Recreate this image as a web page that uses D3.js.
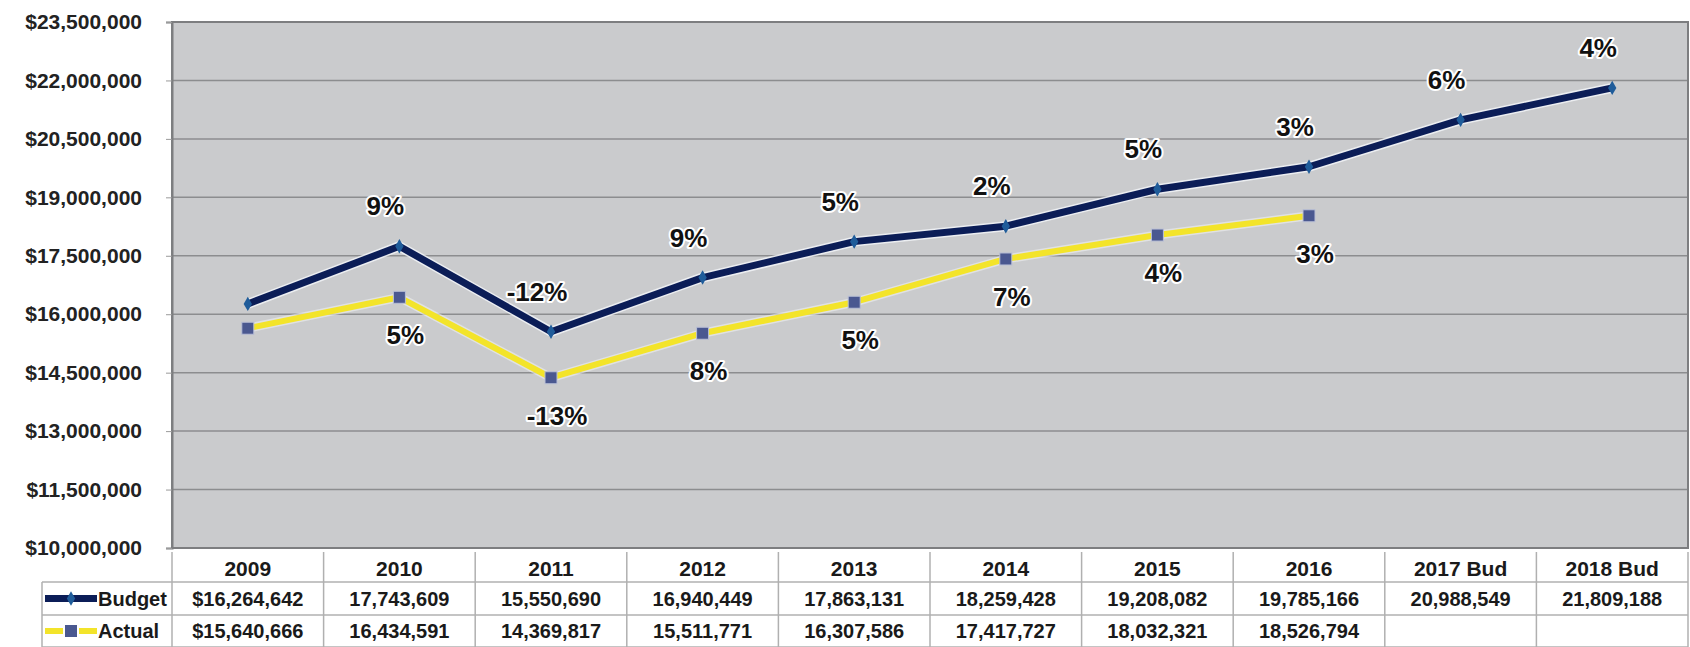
<!DOCTYPE html>
<html>
<head>
<meta charset="utf-8">
<script src="https://cdn.jsdelivr.net/npm/d3@7"></script>
<style>
  html, body { margin: 0; padding: 0; background: #ffffff; }
  svg { display: block; font-family: "Liberation Sans", Arial, sans-serif; }
</style>
</head>
<body>
<svg id="chart" width="1690" height="647"></svg>
<script>
// ---- data ----
const categories = ["2009", "2010", "2011", "2012", "2013", "2014", "2015", "2016", "2017 Bud", "2018 Bud"];
const budget = [16264642, 17743609, 15550690, 16940449, 17863131, 18259428, 19208082, 19785166, 20988549, 21809188];
const actual = [15640666, 16434591, 14369817, 15511771, 16307586, 17417727, 18032321, 18526794, null, null];
const budgetLabels = ["", "9%", "-12%", "9%", "5%", "2%", "5%", "3%", "6%", "4%"];
const actualLabels = ["", "5%", "-13%", "8%", "5%", "7%", "4%", "3%", "", ""];
const budgetTable = ["$16,264,642", "17,743,609", "15,550,690", "16,940,449", "17,863,131", "18,259,428", "19,208,082", "19,785,166", "20,988,549", "21,809,188"];
const actualTable = ["$15,640,666", "16,434,591", "14,369,817", "15,511,771", "16,307,586", "17,417,727", "18,032,321", "18,526,794", "", ""];
const yTicks = [10000000, 11500000, 13000000, 14500000, 16000000, 17500000, 19000000, 20500000, 22000000, 23500000];
const seriesNames = ["Budget", "Actual"];

// ---- layout ----
const plot = { left: 172, right: 1688, top: 22, bottom: 548 };
const svg = d3.select("#chart");

const x = d3.scaleBand().domain(categories).range([plot.left, plot.right]).padding(0);
const y = d3.scaleLinear().domain([10000000, 23500000]).range([plot.bottom, plot.top]);
const cx = d => x(d) + x.bandwidth() / 2;

const navy = "#0b1d57";
const yellow = "#f3e42a";
const markerBlue = "#4a5890";

// plot background
svg.append("rect")
  .attr("x", plot.left).attr("y", plot.top)
  .attr("width", plot.right - plot.left).attr("height", plot.bottom - plot.top)
  .attr("fill", "#cacbcd");

// gridlines
svg.append("g").selectAll("line").data(yTicks).join("line")
  .attr("x1", plot.left).attr("x2", plot.right)
  .attr("y1", d => y(d)).attr("y2", d => y(d))
  .attr("stroke", "#8c8d8f").attr("stroke-width", 1.5);

// plot border
svg.append("rect")
  .attr("x", plot.left).attr("y", plot.top)
  .attr("width", plot.right - plot.left).attr("height", plot.bottom - plot.top)
  .attr("fill", "none").attr("stroke", "#7d7e80").attr("stroke-width", 2);

// y axis
const fmt = d => "$" + d3.format(",")(d);
const yAxis = d3.axisLeft(y).tickValues(yTicks).tickFormat(fmt).tickSize(6).tickPadding(24);
const ya = svg.append("g").attr("transform", `translate(${plot.left},0)`).call(yAxis);
ya.select(".domain").attr("stroke", "#7d7e80").attr("stroke-width", 2);
ya.selectAll(".tick line").attr("stroke", "#9a9a9a");
ya.selectAll(".tick text")
  .attr("font-family", "'Liberation Sans', Arial, sans-serif")
  .attr("font-size", 21).attr("font-weight", "bold").attr("fill", "#222");

// lines
const lineGen = d3.line()
  .defined(d => d.v != null)
  .x(d => cx(d.c)).y(d => y(d.v));
const bData = categories.map((c, i) => ({ c, v: budget[i] }));
const aData = categories.map((c, i) => ({ c, v: actual[i] }));

// actual line
svg.append("path").datum(aData).attr("d", lineGen)
  .attr("fill", "none").attr("stroke", "#eef0f2").attr("stroke-width", 9).attr("stroke-linejoin", "round").attr("opacity", 0.6);
svg.append("path").datum(aData).attr("d", lineGen)
  .attr("fill", "none").attr("stroke", yellow).attr("stroke-width", 6).attr("stroke-linejoin", "round");
// budget line
svg.append("path").datum(bData).attr("d", lineGen)
  .attr("fill", "none").attr("stroke", "#f4f6fa").attr("stroke-width", 10).attr("stroke-linejoin", "round").attr("opacity", 0.8);
svg.append("path").datum(bData).attr("d", lineGen)
  .attr("fill", "none").attr("stroke", navy).attr("stroke-width", 7).attr("stroke-linejoin", "round");

// markers
svg.append("g").selectAll("rect").data(aData.filter(d => d.v != null)).join("rect")
  .attr("x", d => cx(d.c) - 6).attr("y", d => y(d.v) - 6)
  .attr("width", 12).attr("height", 12)
  .attr("fill", markerBlue).attr("stroke", "#b9bfd6").attr("stroke-width", 1);
svg.append("g").selectAll("path").data(bData).join("path")
  .attr("d", d3.symbol().type(d3.symbolDiamond).size(60))
  .attr("transform", d => `translate(${cx(d.c)},${y(d.v)})`)
  .attr("fill", "#1f5c9a");

// data labels
const labelStyle = sel => sel
  .attr("text-anchor", "middle").attr("dominant-baseline", "central")
  .attr("font-size", 26).attr("font-weight", "bold").attr("fill", "#111")
  .attr("stroke", "#ffffff").attr("stroke-width", 4).attr("stroke-linejoin", "round")
  .attr("paint-order", "stroke");
svg.append("g").selectAll("text").data(bData.map((d, i) => ({ ...d, t: budgetLabels[i] })).filter(d => d.t))
  .join("text").call(labelStyle)
  .attr("x", d => cx(d.c) - 14).attr("y", d => y(d.v) - 40).text(d => d.t);
svg.append("g").selectAll("text").data(aData.map((d, i) => ({ ...d, t: actualLabels[i] })).filter(d => d.t))
  .join("text").call(labelStyle)
  .attr("x", d => cx(d.c) + 6).attr("y", d => y(d.v) + 38).text(d => d.t);

// ---- data table ----
const rowY = [552, 582, 615, 647];
const tableLeft = 42;
const gT = svg.append("g");
gT.append("rect").attr("x", plot.left).attr("y", rowY[0]).attr("width", plot.right - plot.left).attr("height", rowY[3] - rowY[0]).attr("fill", "#fff");
[1, 2, 3].forEach(r => {
  gT.append("line").attr("x1", tableLeft).attr("x2", plot.right)
    .attr("y1", rowY[r]).attr("y2", rowY[r]).attr("stroke", "#b0b0b0").attr("stroke-width", 1.5);
});
const colEdges = categories.map(c => x(c)).concat([plot.right]);
gT.selectAll("line.v").data(colEdges).join("line").attr("class", "v")
  .attr("x1", d => d).attr("x2", d => d)
  .attr("y1", rowY[0]).attr("y2", rowY[3])
  .attr("stroke", "#b0b0b0").attr("stroke-width", 1.5);
gT.append("line").attr("x1", tableLeft).attr("x2", tableLeft).attr("y1", rowY[1]).attr("y2", rowY[3])
  .attr("stroke", "#b0b0b0").attr("stroke-width", 1.5);

const cellText = (sel, size) => sel.attr("text-anchor", "middle").attr("dominant-baseline", "central")
  .attr("font-size", size).attr("font-weight", "bold").attr("fill", "#1a1a1a");
gT.append("g").selectAll("text").data(categories).join("text").call(cellText, 21)
  .attr("x", d => cx(d)).attr("y", (rowY[0] + rowY[1]) / 2 + 1).text(d => d);
gT.append("g").selectAll("text").data(budgetTable).join("text").call(cellText, 20)
  .attr("x", (d, i) => cx(categories[i])).attr("y", (rowY[1] + rowY[2]) / 2).text(d => d);
gT.append("g").selectAll("text").data(actualTable).join("text").call(cellText, 20)
  .attr("x", (d, i) => cx(categories[i])).attr("y", (rowY[2] + rowY[3]) / 2).text(d => d);

// legend keys in table
const keyY1 = (rowY[1] + rowY[2]) / 2, keyY2 = (rowY[2] + rowY[3]) / 2;
gT.append("line").attr("x1", 45).attr("x2", 97).attr("y1", keyY1).attr("y2", keyY1)
  .attr("stroke", navy).attr("stroke-width", 7);
gT.append("path").attr("d", d3.symbol().type(d3.symbolDiamond).size(60)())
  .attr("transform", `translate(71,${keyY1})`).attr("fill", "#1f5c9a");
gT.append("line").attr("x1", 45).attr("x2", 97).attr("y1", keyY2).attr("y2", keyY2)
  .attr("stroke", yellow).attr("stroke-width", 6);
gT.append("rect").attr("x", 64).attr("y", keyY2 - 7).attr("width", 14).attr("height", 14)
  .attr("fill", markerBlue).attr("stroke", "#fff").attr("stroke-width", 2);
gT.append("g").selectAll("text").data(seriesNames).join("text")
  .attr("x", 98).attr("y", (d, i) => i === 0 ? keyY1 : keyY2)
  .attr("dominant-baseline", "central").attr("font-size", 20).attr("font-weight", "bold").attr("fill", "#1a1a1a")
  .text(d => d);
</script>
</body>
</html>
